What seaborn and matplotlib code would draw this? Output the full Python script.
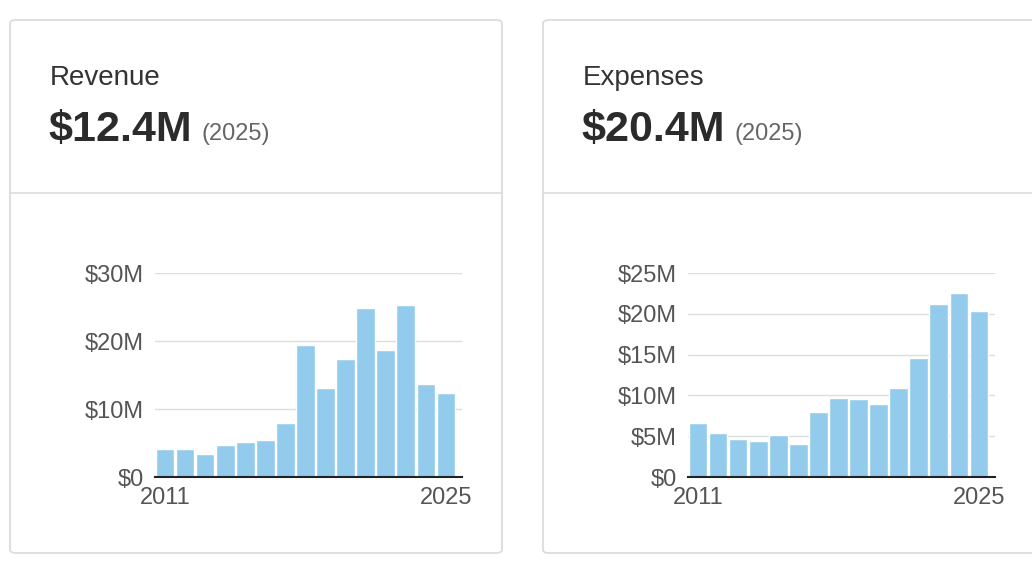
import matplotlib.pyplot as plt
import seaborn as sns
import pandas as pd
from matplotlib.patches import FancyBboxPatch

years = list(range(2011, 2026))
revenue = [4.1, 4.1, 3.4, 4.7, 5.1, 5.4, 7.9, 19.4, 13.1, 17.4, 24.9, 18.7, 25.3, 13.7, 12.4]
expenses = [6.6, 5.4, 4.7, 4.4, 5.1, 4.0, 8.0, 9.7, 9.6, 8.9, 10.9, 14.6, 21.2, 22.5, 20.4]

sns.set_style("white")
plt.rcParams['font.family'] = ['Liberation Sans', 'DejaVu Sans']

W, H = 1032, 564
fig = plt.figure(figsize=(W / 100, H / 100), dpi=100)
fig.patch.set_facecolor('white')


def px(x0, y0, x1, y1):
    # pixel box (top-left origin) -> figure fraction
    return [x0 / W, 1 - y1 / H, (x1 - x0) / W, (y1 - y0) / H]


def card(x0, x1, title, value, values, ymax, step):
    box = FancyBboxPatch((x0 / W, 1 - 553 / H), (x1 - x0) / W, 533 / H,
                         boxstyle="round,pad=0,rounding_size=0.006",
                         transform=fig.transFigure, fc='none', ec='#d9d9d9', lw=1.2, zorder=-1)
    fig.patches.append(box)
    fig.add_artist(plt.Line2D([x0 / W, x1 / W], [1 - 193 / H] * 2, color='#dcdcdc', lw=1.2))
    fig.text((x0 + 40) / W, 1 - 78 / H, title, fontsize=20, color='#333333', va='center')
    t = fig.text((x0 + 38) / W, 1 - 130 / H, value, fontsize=31, fontweight='bold',
                 color='#2b2b2b', va='center')
    fig.canvas.draw()
    bb = t.get_window_extent()
    fig.text(bb.x1 / W + 10 / W, 1 - 134 / H, '(2025)', fontsize=17, color='#666666', va='center')

    ax = fig.add_axes(px(x0 + 145, 273, x0 + 452, 477))
    ax.patch.set_alpha(0)
    df = pd.DataFrame({'year': years, 'v': values})
    sns.barplot(data=df, x='year', y='v', color='#93cbec', saturation=1, width=0.93, ax=ax)
    ax.set_xlim(-0.5, len(years) - 0.5 + 0.3)
    ax.set_ylim(0, ymax)
    ticks = list(range(0, ymax + 1, step))
    ax.set_yticks(ticks)
    ax.set_yticklabels(['$0' if v == 0 else f'${v}M' for v in ticks], fontsize=17, color='#555555')
    ax.set_xticks([0, len(years) - 1])
    ax.set_xticklabels([str(years[0]), str(years[-1])], fontsize=17, color='#555555')
    ax.tick_params(axis='x', length=5, color='#222222', pad=2)
    ax.tick_params(axis='y', length=0, pad=8)
    ax.grid(axis='y', color='#dddddd', lw=1)
    ax.set_axisbelow(True)
    for s in ['top', 'right', 'left']:
        ax.spines[s].set_visible(False)
    ax.spines['bottom'].set_color('#222222')
    ax.spines['bottom'].set_linewidth(1.5)
    ax.set_xlabel('')
    ax.set_ylabel('')


card(10, 502, 'Revenue', '$12.4M', revenue, 30, 10)
card(543, 1060, 'Expenses', '$20.4M', expenses, 25, 5)

fig.savefig('out.png', dpi=100)
